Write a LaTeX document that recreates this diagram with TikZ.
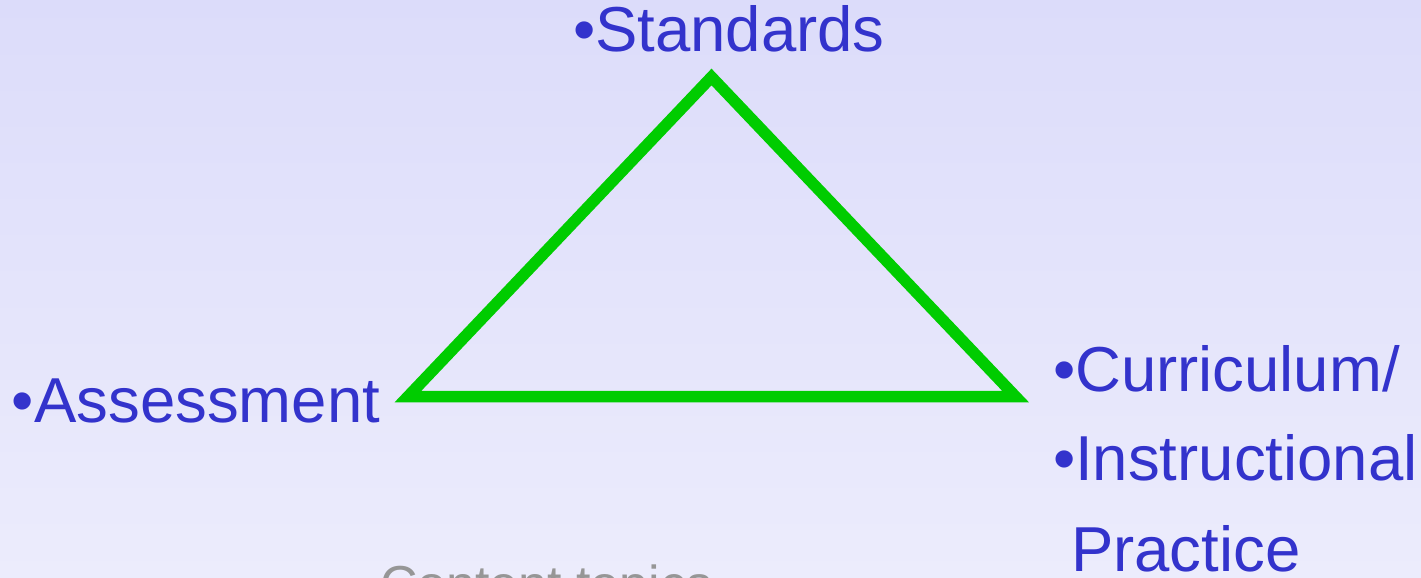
\documentclass[tikz,border=0pt]{standalone}
\usepackage{fontspec}
\setmainfont{Liberation Sans}
\definecolor{bgtop}{RGB}{220,220,250}
\definecolor{bgbot}{RGB}{236,236,252}
\definecolor{txtblue}{RGB}{51,51,204}
\definecolor{trigreen}{RGB}{0,204,0}
\definecolor{txtgray}{RGB}{150,150,150}
\begin{document}
\begin{tikzpicture}[x=1pt,y=-1pt,
  lbl/.style={anchor=base west,inner sep=0pt,outer sep=0pt,text=txtblue,font=\fontsize{63.5}{75}\selectfont},
  tri/.style={draw=trigreen,line width=11.5pt,line join=miter}]
\useasboundingbox (0,0) rectangle (1421,578);
\shade[top color=bgtop,bottom color=bgbot] (0,0) rectangle (1421,578);
\clip (0,0) rectangle (1421,578);
\coordinate (apex) at (711.5,77);
\coordinate (L) at (408,396.5);
\coordinate (R) at (1015.5,396.5);
\draw[tri] (apex) -- (R) -- (L) -- cycle;
\node[lbl] (std) at (573,52) {•Standards};
\node[lbl] (ass) at (12,422) {•Assessment};
\node[lbl] (cur) at (1053,391) {•Curriculum/};
\node[lbl] (ins) at (1053,480) {•Instructional};
\node[lbl] (pra) at (1071,571) {Practice};
\node[lbl,text=txtgray,font=\fontsize{52}{62}\selectfont] (con) at (380,602) {Content topics};
\end{tikzpicture}
\end{document}
